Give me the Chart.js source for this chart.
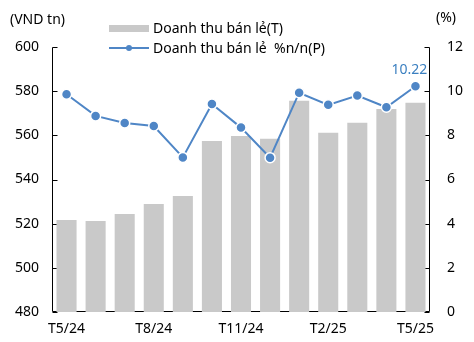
<!DOCTYPE html>
<html>
<head>
<meta charset="utf-8">
<script src="https://cdn.jsdelivr.net/npm/chart.js@4.4.1/dist/chart.umd.min.js"></script>
<style>
  html, body { margin: 0; padding: 0; background: #fff; }
  #wrap { width: 474px; height: 342px; position: relative; }
</style>
</head>
<body>
<div id="wrap"><canvas id="retailChart"></canvas></div>
<script>
// monthly retail sales (VND tn) and y/y growth (%)
const months = ['T5/24','T6/24','T7/24','T8/24','T9/24','T10/24','T11/24','T12/24','T1/25','T2/25','T3/25','T4/25','T5/25'];
const salesValues = [521.7, 521.2, 524.4, 528.9, 532.5, 557.4, 559.7, 558.4, 575.7, 561.2, 565.7, 571.9, 574.8];
const growthValues = [9.86, 8.88, 8.56, 8.42, 7.0, 9.42, 8.35, 6.99, 9.93, 9.38, 9.8, 9.27, 10.22];
const shownMonths = ['T5/24','T8/24','T11/24','T2/25','T5/25'];
const salesLabel = 'Doanh thu bán lẻ(T)';
const growthLabel = 'Doanh thu bán lẻ  %n/n(P)';

const FONT = "'Noto Sans', 'Liberation Sans', sans-serif";
const BAR_COLOR = '#c9c9c9';
const LINE_COLOR = '#4f86c6';

// axis lines with inward tick marks, drawn under the data
const axisFrame = {
    id: 'axisFrame',
    beforeDatasetsDraw(chart) {
        const ctx = chart.ctx;
        const area = chart.chartArea;
        const yL = chart.scales.y;
        const yR = chart.scales.y1;
        const left = Math.round(area.left) + 0.5;
        const right = Math.round(area.right) - 0.5;
        const bottom = Math.round(area.bottom) - 0.5;
        const top = Math.round(area.top) + 0.5;
        ctx.save();
        ctx.strokeStyle = '#000';
        ctx.lineWidth = 1;
        ctx.beginPath();
        ctx.moveTo(left, top);
        ctx.lineTo(left, bottom);
        ctx.lineTo(right, bottom);
        ctx.lineTo(right, top);
        yL.ticks.forEach(t => {
            const y = Math.round(yL.getPixelForValue(t.value)) + 0.5;
            ctx.moveTo(left, y);
            ctx.lineTo(left + 5, y);
        });
        yR.ticks.forEach(t => {
            const y = Math.round(yR.getPixelForValue(t.value)) + 0.5;
            ctx.moveTo(right, y);
            ctx.lineTo(right - 5, y);
        });
        ctx.stroke();
        ctx.restore();
    }
};

// unit captions, legend and the last value label
const decorations = {
    id: 'decorations',
    afterDatasetsDraw(chart) {
        const ctx = chart.ctx;
        ctx.save();
        ctx.fillStyle = '#000';
        ctx.font = '14px ' + FONT;
        ctx.textBaseline = 'middle';
        ctx.textAlign = 'left';
        ctx.fillText('(VND tn)', 10, 20);
        ctx.fillText('(%)', 436, 18);

        // legend
        ctx.fillStyle = BAR_COLOR;
        ctx.fillRect(109, 25, 40, 7);
        ctx.strokeStyle = LINE_COLOR;
        ctx.lineWidth = 2;
        ctx.beginPath();
        ctx.moveTo(109, 48);
        ctx.lineTo(149, 48);
        ctx.stroke();
        ctx.fillStyle = LINE_COLOR;
        ctx.beginPath();
        ctx.arc(129, 48, 3, 0, Math.PI * 2);
        ctx.fill();
        ctx.fillStyle = '#000';
        ctx.fillText(salesLabel, 153, 29);
        ctx.fillText(growthLabel, 153, 49);

        // value label on the latest point of the growth line
        const meta = chart.getDatasetMeta(0);
        const last = meta.data[meta.data.length - 1];
        ctx.fillStyle = '#3a7fc0';
        ctx.textAlign = 'center';
        ctx.fillText(growthValues[growthValues.length - 1].toFixed(2), last.x - 6, last.y - 16);
        ctx.restore();
    }
};

new Chart(document.getElementById('retailChart'), {
    data: {
        labels: months,
        datasets: [
            {
                type: 'line',
                label: growthLabel,
                data: growthValues,
                yAxisID: 'y1',
                borderColor: LINE_COLOR,
                borderWidth: 2,
                pointRadius: 5,
                pointBackgroundColor: LINE_COLOR,
                pointBorderColor: '#fff',
                pointBorderWidth: 1.5,
                tension: 0,
                order: 0
            },
            {
                type: 'bar',
                label: salesLabel,
                data: salesValues,
                yAxisID: 'y',
                backgroundColor: BAR_COLOR,
                categoryPercentage: 1,
                barPercentage: 0.69,
                order: 1
            }
        ]
    },
    options: {
        responsive: true,
        maintainAspectRatio: false,
        animation: false,
        layout: { padding: { top: 47, left: 0, right: 0, bottom: 0 } },
        plugins: {
            legend: { display: false },
            tooltip: { enabled: false }
        },
        scales: {
            x: {
                offset: true,
                afterFit: (scale) => { scale.height = 30; },
                grid: { display: false, drawTicks: false },
                border: { display: false },
                ticks: {
                    color: '#000',
                    font: { family: FONT, size: 14 },
                    autoSkip: false,
                    maxRotation: 0,
                    padding: 9,
                    callback: function(value) {
                        const lbl = this.getLabelForValue(value);
                        return shownMonths.includes(lbl) ? lbl : '';
                    }
                }
            },
            y: {
                position: 'left',
                min: 480,
                max: 600,
                afterFit: (scale) => { scale.width = 52; },
                grid: { display: false, drawTicks: false },
                border: { display: false },
                ticks: {
                    stepSize: 20,
                    color: '#000',
                    font: { family: FONT, size: 14 },
                    padding: 13
                }
            },
            y1: {
                position: 'right',
                min: 0,
                max: 12,
                afterFit: (scale) => { scale.width = 44; },
                grid: { display: false, drawTicks: false },
                border: { display: false },
                ticks: {
                    stepSize: 2,
                    color: '#000',
                    font: { family: FONT, size: 14 },
                    padding: 17
                }
            }
        }
    },
    plugins: [axisFrame, decorations]
});
</script>
</body>
</html>
